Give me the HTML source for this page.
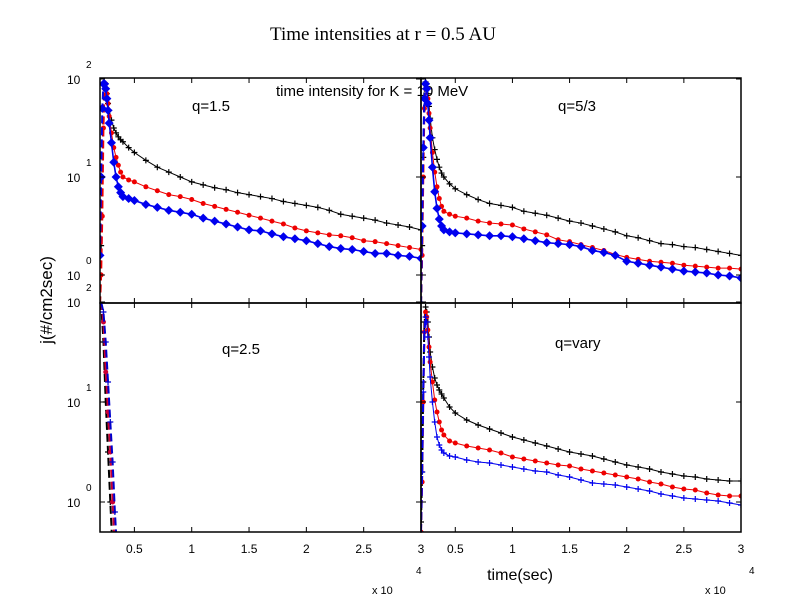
<!DOCTYPE html>
<html><head><meta charset="utf-8"><style>
body{margin:0;background:#fff;width:794px;height:595px;overflow:hidden}
svg{display:block}
text{font-family:"Liberation Sans",sans-serif;fill:#000}
</style></head><body>
<svg id="chart" width="794" height="595" viewBox="0 0 794 595" xmlns="http://www.w3.org/2000/svg">
<text x="383" y="40" text-anchor="middle" style="font-family:'Liberation Serif',serif;font-size:19px">Time intensities at r = 0.5 AU</text>
<text x="276" y="96" style="font-size:15px">time intensity for K = 10 MeV</text>
<text transform="translate(52,300) rotate(-90)" text-anchor="middle" style="font-size:17px">j(#/cm2sec)</text>
<text x="520" y="580" text-anchor="middle" style="font-size:16px">time(sec)</text>
<g id="panels"></g>
</svg>
<script>
const T = [0.2,0.21,0.22,0.23,0.24,0.25,0.26,0.27,0.28,0.3,0.32,0.34,0.36,0.38,0.4,0.45,0.5,0.6,0.7,0.8,0.9,1.0,1.1,1.2,1.3,1.4,1.5,1.6,1.7,1.8,1.9,2.0,2.1,2.2,2.3,2.4,2.5,2.6,2.7,2.8,2.9,3.0];
const q15Black = [-0.3,0.3,1.0,1.7,1.95,1.95,1.85,1.75,1.68,1.58,1.5,1.45,1.41,1.38,1.36,1.3,1.25,1.17,1.1,1.05,1.0,0.95,0.92,0.89,0.87,0.84,0.82,0.8,0.78,0.75,0.73,0.71,0.69,0.66,0.62,0.6,0.58,0.56,0.53,0.51,0.49,0.46];
const q15Red = [-0.3,0.0,0.6,1.5,1.9,1.95,1.85,1.75,1.62,1.45,1.3,1.2,1.12,1.05,1.0,0.97,0.95,0.9,0.86,0.82,0.8,0.77,0.73,0.7,0.67,0.64,0.61,0.58,0.55,0.52,0.48,0.45,0.43,0.41,0.4,0.38,0.35,0.34,0.32,0.3,0.28,0.26];
const q15Blue = [0.2,1.0,1.7,1.95,1.95,1.9,1.8,1.68,1.55,1.35,1.15,1.0,0.9,0.84,0.8,0.78,0.76,0.72,0.69,0.66,0.64,0.62,0.58,0.55,0.52,0.49,0.46,0.45,0.42,0.39,0.37,0.35,0.32,0.29,0.27,0.26,0.24,0.22,0.22,0.2,0.19,0.17];
const q53Black = [-0.3,0.3,1.2,1.9,1.97,1.95,1.85,1.72,1.6,1.4,1.28,1.18,1.1,1.04,1.0,0.93,0.88,0.82,0.77,0.73,0.71,0.69,0.65,0.63,0.61,0.58,0.55,0.53,0.5,0.47,0.44,0.4,0.38,0.35,0.32,0.31,0.29,0.28,0.26,0.24,0.22,0.2];
const q53Red = [-0.3,0.2,1.0,1.7,1.9,1.9,1.8,1.65,1.5,1.25,1.05,0.9,0.78,0.7,0.65,0.62,0.6,0.58,0.55,0.53,0.52,0.51,0.47,0.44,0.41,0.36,0.34,0.31,0.28,0.25,0.21,0.18,0.16,0.14,0.13,0.12,0.1,0.09,0.08,0.07,0.07,0.06];
const q53Blue = [-0.3,0.5,1.3,1.8,1.95,1.9,1.75,1.58,1.4,1.1,0.85,0.68,0.57,0.5,0.46,0.44,0.43,0.42,0.41,0.4,0.4,0.39,0.37,0.35,0.33,0.32,0.31,0.29,0.25,0.23,0.2,0.14,0.12,0.1,0.08,0.06,0.04,0.03,0.02,0.0,-0.01,-0.03];
const qvBlack = [-0.2,0.3,1.2,1.8,1.95,1.9,1.8,1.65,1.5,1.35,1.24,1.17,1.12,1.08,1.04,0.95,0.89,0.82,0.77,0.73,0.69,0.65,0.62,0.59,0.56,0.53,0.5,0.48,0.46,0.43,0.4,0.37,0.35,0.33,0.3,0.28,0.26,0.25,0.23,0.22,0.21,0.21];
const qvRed = [-0.3,0.2,1.0,1.7,1.9,1.85,1.72,1.55,1.4,1.2,1.02,0.9,0.8,0.72,0.67,0.61,0.59,0.56,0.54,0.52,0.49,0.45,0.43,0.41,0.39,0.37,0.36,0.33,0.31,0.29,0.27,0.25,0.23,0.2,0.18,0.15,0.13,0.12,0.09,0.07,0.06,0.06];
const qvBlue = [-0.3,0.3,1.1,1.7,1.85,1.8,1.65,1.45,1.25,1.0,0.8,0.65,0.57,0.52,0.49,0.46,0.45,0.42,0.4,0.39,0.37,0.35,0.33,0.31,0.3,0.27,0.25,0.22,0.19,0.18,0.17,0.15,0.13,0.11,0.08,0.06,0.04,0.03,0.02,0.01,-0.01,-0.03];
const T25 = [0.21,0.23,0.25,0.27,0.29,0.31,0.33,0.35];
const q25Black = [2.0,1.6,1.0,0.5,0.0,-0.5,-0.8,-0.9];
const q25Red = [2.0,1.8,1.3,0.9,0.5,0.0,-0.5,-0.8];
const q25Blue = [2.0,1.9,1.6,1.2,0.8,0.4,-0.1,-0.5];
const xTicks = [0.5,1,1.5,2,2.5,3];
const xTickLabels = ["0.5","1","1.5","2","2.5","3"];
const yTicks = [0,1,2];

const NS="http://www.w3.org/2000/svg";
const root=document.getElementById('panels');
function mk(tag,attrs,parent){const e=document.createElementNS(NS,tag);for(const k in attrs)e.setAttribute(k,attrs[k]);(parent||root).appendChild(e);return e;}

const panels=[
 {name:'q15',x0:100,x1:421,y0:78,y1:303,label:'q=1.5',lx:192,ly:111,series:[[T,q15Black,'#000','plus'],[T,q15Red,'#e00','dot'],[T,q15Blue,'#00e','big']]},
 {name:'q53',x0:421,x1:741,y0:78,y1:303,label:'q=5/3',lx:558,ly:111,series:[[T,q53Black,'#000','plus'],[T,q53Red,'#e00','dot'],[T,q53Blue,'#00e','big']]},
 {name:'q25',x0:100,x1:421,y0:303,y1:532,label:'q=2.5',lx:222,ly:354,series:[[T25,q25Black,'#000','plus'],[T25,q25Red,'#c03','dot'],[T25,q25Blue,'#00c','plus']],spike:true},
 {name:'qvary',x0:421,x1:741,y0:303,y1:532,label:'q=vary',lx:555,ly:348,series:[[T,qvBlack,'#000','plus'],[T,qvRed,'#e00','dot'],[T,qvBlue,'#00e','plus']]}
];
panels.forEach((p,pi)=>{
  const g=mk('g',{});
  
  
  const xs=v=>p.x0+(v-0.2)/2.8*(p.x1-p.x0);
  const top=p.y0<200?{y1:177,y0:275}:{y1:402,y0:502};
  const dec=top.y0-top.y1;
  const ys=v=>top.y0-v*dec;
  const cid='clip'+pi;
  const cp=mk('clipPath',{id:cid},g);
  mk('rect',{x:p.x0,y:p.y0,width:p.x1-p.x0,height:p.y1-p.y0},cp);
  const pg=mk('g',{'clip-path':'url(#'+cid+')'},g);
  p.series.forEach((s,si)=>{
    const [tx,vals,col,mark]=s;
    const sg=mk('g',{},pg);
    
    
    const n=Math.min(tx.length,vals.length);
    const pts=[];
    for(let i=0;i<n;i++)pts.push([xs(tx[i]),ys(vals[i])]);
    const v=vals.slice(0,n);
    const peak=p.spike?0:v.indexOf(Math.max(...v));
    if(!p.spike){
      mk('polyline',{points:pts.slice(0,peak+1).map(q=>q.join(',')).join(' '),fill:'none',stroke:col,'stroke-width':2,'stroke-dasharray':'8,4'},sg);
      mk('polyline',{points:pts.slice(peak).map(q=>q.join(',')).join(' '),fill:'none',stroke:col,'stroke-width':mark==='big'?1.6:1},sg);
    } else {
      mk('polyline',{points:pts.map(q=>q.join(',')).join(' '),fill:'none',stroke:col,'stroke-width':2,'stroke-dasharray':'8,4'},sg);
    }
    pts.forEach(q=>{
      let m;
      if(mark==='plus'){m=mk('path',{d:`M${q[0]-3},${q[1]}h6M${q[0]},${q[1]-3}v6`,stroke:col,'stroke-width':1.2},sg);}
      else if(mark==='dot'){m=mk('circle',{cx:q[0],cy:q[1],r:2.5,fill:col},sg);}
      else {m=mk('path',{d:`M${q[0]},${q[1]-4.5}l4.5,4.5l-4.5,4.5l-4.5,-4.5z`,fill:col},sg);}
      
      
    });
  });
  const fr=mk('rect',{x:p.x0,y:p.y0,width:p.x1-p.x0,height:p.y1-p.y0,fill:'none',stroke:'#000','stroke-width':1.5},g);
  
  
  xTicks.forEach((t,i)=>{
    const x=xs(t);
    mk('line',{x1:x,x2:x,y1:p.y1,y2:p.y1-5,stroke:'#000'},g);
    mk('line',{x1:x,x2:x,y1:p.y0,y2:p.y0+5,stroke:'#000'},g);
    if(p.y0>200){
      const tl=mk('text',{x:x,y:p.y1+21,'text-anchor':'middle','font-size':12},g);
      tl.textContent=xTickLabels[i];
      
      
    }
  });
  yTicks.forEach(d=>{
    const y=ys(d);
    if(y<p.y0-1||y>p.y1+1)return;
    mk('line',{x1:p.x0,x2:p.x0+5,y1:y,y2:y,stroke:'#000'},g);
    mk('line',{x1:p.x1,x2:p.x1-5,y1:y,y2:y,stroke:'#000'},g);
    if(p.x0<200){
      const tl=mk('text',{x:p.x0-33,y:y+5,'font-size':12},g);
      tl.textContent='10';
      
      
      const sp=mk('text',{x:p.x0-14,y:y-11,'font-size':10},g);
      sp.textContent=String(d);
      
      
    }
  });
  const lb=mk('text',{x:p.lx,y:p.ly,'font-size':15},g);
  lb.textContent=p.label;
  
  
});
[[372,'left'],[705,'right']].forEach(([x,n])=>{
  const a=mk('text',{x:x,y:594,'font-size':11});
  a.textContent='x 10';
  
  
  const b=mk('text',{x:x+44,y:574,'font-size':10});
  b.textContent='4';
  
  
});
</script>
</body></html>
